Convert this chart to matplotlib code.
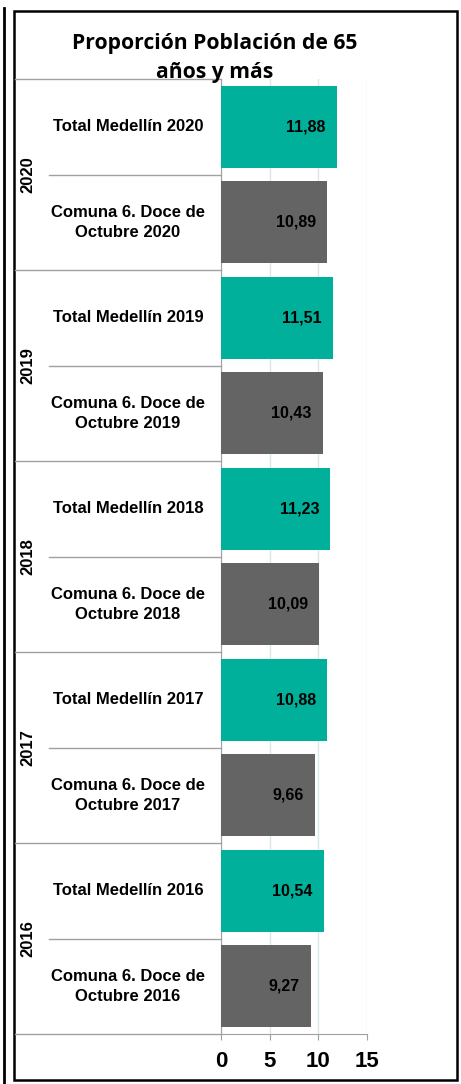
import matplotlib.pyplot as plt
from matplotlib.lines import Line2D
from matplotlib.patches import Rectangle
import matplotlib.transforms as mtransforms

# Data (top to bottom as in the chart)
years = ["2020", "2019", "2018", "2017", "2016"]
labels = ["Total Medellín 2020", "Comuna 6. Doce de\nOctubre 2020",
          "Total Medellín 2019", "Comuna 6. Doce de\nOctubre 2019",
          "Total Medellín 2018", "Comuna 6. Doce de\nOctubre 2018",
          "Total Medellín 2017", "Comuna 6. Doce de\nOctubre 2017",
          "Total Medellín 2016", "Comuna 6. Doce de\nOctubre 2016"]
values = [11.88, 10.89, 11.51, 10.43, 11.23, 10.09, 10.88, 9.66, 10.54, 9.27]
xticks = [0, 5, 10, 15]

teal = "#00B09B"
gray = "#646464"
W, H = 461, 1084
font = "Liberation Sans"

fig = plt.figure(figsize=(W / 100, H / 100), dpi=100)
ax = fig.add_axes([221 / W, 1 - 1034 / H, (367 - 221) / W, (1034 - 79) / H])

n = len(values)
ypos = [n - 1 - i for i in range(n)]
colors = [teal if i % 2 == 0 else gray for i in range(n)]
ax.barh(ypos, values, height=0.86, color=colors, zorder=3)

for y, v in zip(ypos, values):
    ax.annotate(f"{v:.2f}".replace(".", ","), (v, y), xytext=(-8, 0),
                textcoords="offset points", ha="right", va="center",
                fontsize=11.5, fontweight="bold", family=font, zorder=4)

ax.set_xlim(0, 15)
ax.set_ylim(-0.5, n - 0.5)
ax.set_xticks(xticks)
ax.set_xticklabels([str(t) for t in xticks], fontsize=16, fontweight="bold",
                   family=font)
ax.tick_params(axis="x", length=4, color="#A0A0A0", pad=8)
ax.set_yticks([])
ax.grid(axis="x", color="#D9E6EC", linewidth=1, zorder=0)
for s in ["top", "right"]:
    ax.spines[s].set_visible(False)
ax.spines["left"].set_color("#A0A0A0")
ax.spines["bottom"].set_color("#A0A0A0")

# category labels and separators on the left
trans = mtransforms.blended_transform_factory(fig.transFigure, ax.transData)
for y, lab in zip(ypos, labels):
    fig.text(128 / W, 0, lab, transform=trans, ha="center", va="center",
             fontsize=12, fontweight="bold", family=font,
             linespacing=1.4).set_y(y)

for k in range(n + 1):
    yb = k - 0.5
    x0 = 15 / W if k % 2 == 0 else 49 / W
    fig.add_artist(Line2D([x0, 221 / W], [yb, yb], transform=trans,
                          color="#A0A0A0", linewidth=1))

for g, yr in enumerate(years):
    yc = n - 1 - 2 * g - 0.5
    fig.text(28 / W, 0, yr, transform=trans, ha="center", va="center",
             rotation=90, fontsize=12, fontweight="bold",
             family=font).set_y(yc)

fig.text(215 / W, 1 - 58 / H, "Proporción Población de 65\naños y más",
         ha="center", va="center", fontsize=15.2, fontweight="bold",
         family="Open Sans", linespacing=1.45)

# borders
fig.add_artist(Rectangle((14 / W, 1 - 1080 / H), (457 - 14) / W, (1080 - 11) / H,
                         transform=fig.transFigure, fill=False,
                         edgecolor="black", linewidth=1.8))
fig.add_artist(Line2D([4 / W, 4 / W], [0, 1 - 8 / H], transform=fig.transFigure,
                      color="black", linewidth=2))

fig.savefig("out.png", dpi=100)
